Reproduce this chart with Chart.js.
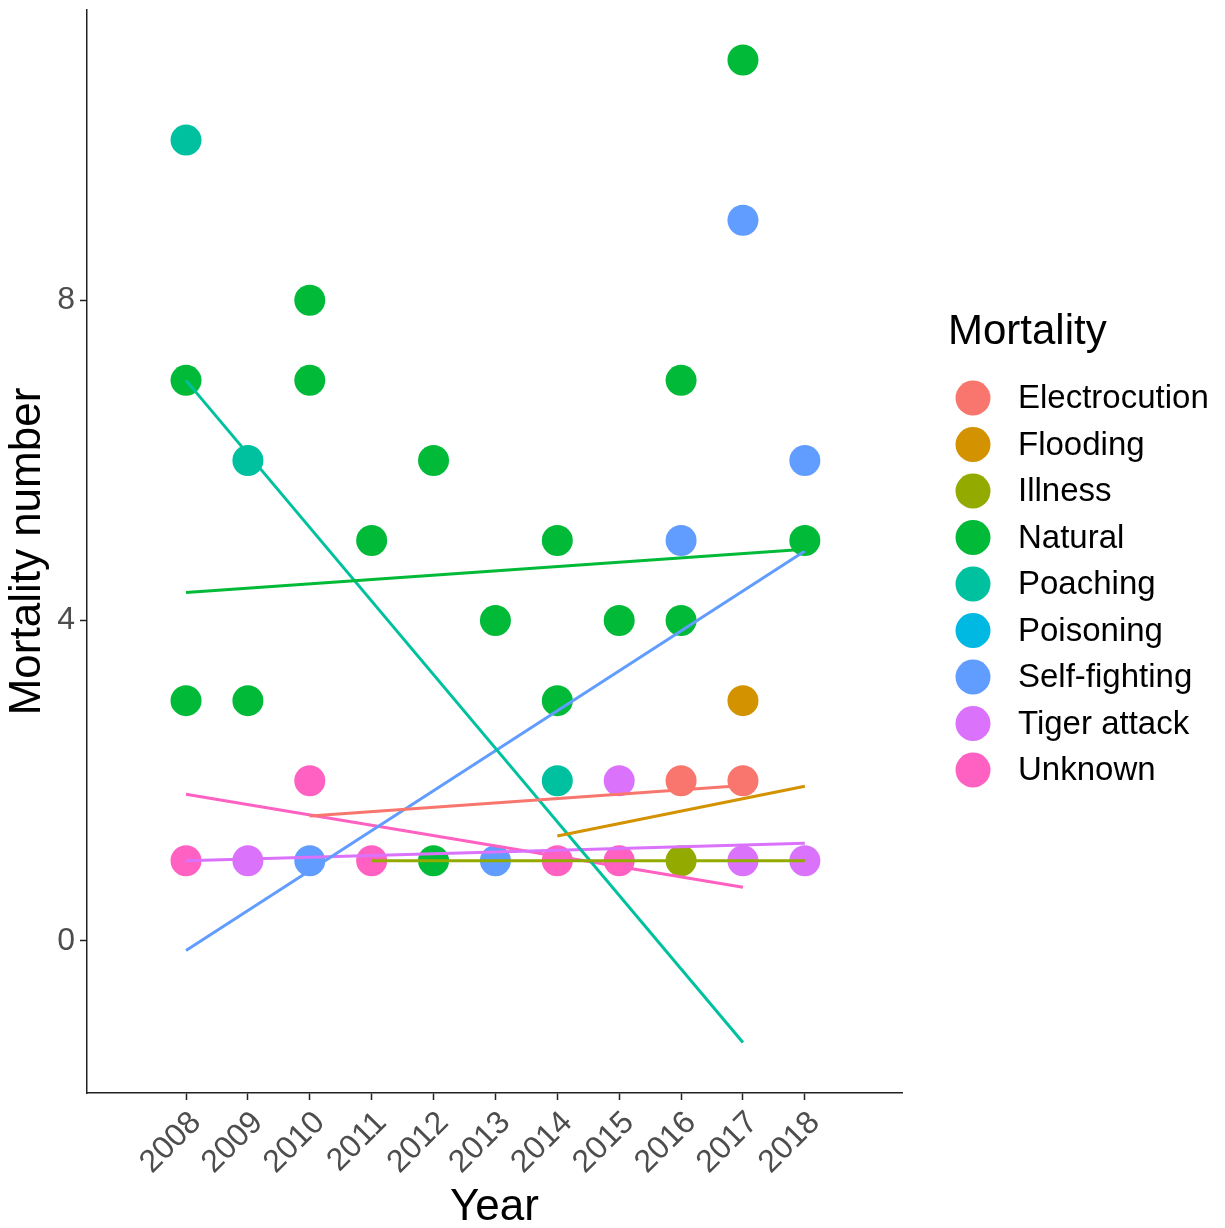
<!DOCTYPE html>
<html>
<head>
<meta charset="utf-8">
<script src="https://cdn.jsdelivr.net/npm/chart.js@4.4.1/dist/chart.umd.min.js"></script>
<style>
  html, body { margin: 0; padding: 0; background: #fff; }
  canvas { display: block; }
</style>
</head>
<body>
<canvas id="chart" width="1225" height="1228"></canvas>
<script>
const years = [2008, 2009, 2010, 2011, 2012, 2013, 2014, 2015, 2016, 2017, 2018];
const yTicks = [0, 4, 8];

const categories = ["Electrocution", "Flooding", "Illness", "Natural", "Poaching",
  "Poisoning", "Self-fighting", "Tiger attack", "Unknown"];
const colors = ["#F8766D", "#D39200", "#93AA00", "#00BA38", "#00C19F",
  "#00B9E3", "#619CFF", "#DB72FB", "#FF61C3"];

// observed counts, [year, number]
const electrocutionPts = [[2016, 2], [2017, 2]];
const floodingPts = [[2017, 3]];
const illnessPts = [[2016, 1]];
const naturalPts = [[2008, 7], [2008, 3], [2009, 3], [2010, 8], [2010, 7], [2011, 5],
  [2012, 6], [2012, 1], [2013, 4], [2014, 5], [2014, 3], [2015, 4], [2016, 7],
  [2016, 4], [2017, 11], [2018, 5]];
const poachingPts = [[2008, 10], [2009, 6], [2014, 2]];
const poisoningPts = [];
const selfFightingPts = [[2010, 1], [2013, 1], [2016, 5], [2017, 9], [2018, 6]];
const tigerPts = [[2009, 1], [2015, 2], [2017, 1], [2018, 1]];
const unknownPts = [[2008, 1], [2010, 2], [2011, 1], [2014, 1], [2015, 1]];

// linear trend ends, [year, fitted]
const electrocutionFit = [[2010, 1.56], [2017, 1.94]];
const floodingFit = [[2014, 1.31], [2018, 1.93]];
const illnessFit = [[2011, 1.0], [2018, 1.0]];
const naturalFit = [[2008, 4.35], [2018, 4.89]];
const poachingFit = [[2008, 7.0], [2017, -1.27]];
const poisoningFit = [];
const selfFightingFit = [[2008, -0.12], [2018, 4.87]];
const tigerFit = [[2008, 1.0], [2018, 1.22]];
const unknownFit = [[2008, 1.83], [2017, 0.67]];

const points = [electrocutionPts, floodingPts, illnessPts, naturalPts, poachingPts,
  poisoningPts, selfFightingPts, tigerPts, unknownPts];
const fits = [electrocutionFit, floodingFit, illnessFit, naturalFit, poachingFit,
  poisoningFit, selfFightingFit, tigerFit, unknownFit];

const FONT = '"Liberation Sans", Arial, sans-serif';
const toXY = arr => arr.map(([x, y]) => ({ x, y }));

// trend lines first so they sit on top of the points
const lineSets = categories.map((name, i) => ({
  label: name + " fit",
  data: toXY(fits[i]),
  showLine: true,
  borderColor: colors[i],
  borderWidth: 3,
  pointRadius: 0,
  fill: false,
}));
const pointSets = categories.map((name, i) => ({
  label: name,
  data: toXY(points[i]),
  backgroundColor: colors[i],
  borderWidth: 0,
  pointRadius: 15.5,
  pointHoverRadius: 15.5,
}));

const sideLegend = {
  id: "sideLegend",
  afterDraw(chart) {
    const ctx = chart.ctx;
    const x0 = chart.chartArea.right + 46;
    ctx.save();
    ctx.textBaseline = "middle";
    ctx.textAlign = "left";
    ctx.fillStyle = "#000";
    ctx.font = "42px " + FONT;
    ctx.fillText("Mortality", x0, 332);
    ctx.font = "33px " + FONT;
    categories.forEach((name, i) => {
      const y = 398 + i * 46.5;
      ctx.fillStyle = colors[i];
      ctx.beginPath();
      ctx.arc(x0 + 25, y, 17.5, 0, Math.PI * 2);
      ctx.fill();
      ctx.fillStyle = "#000";
      ctx.fillText(name, x0 + 70, y + 1);
    });
    ctx.restore();
  }
};

const axisLine = { display: true, color: "#222", width: 1.5 };
const axisGrid = { drawOnChartArea: false, drawTicks: true, tickLength: 7, tickColor: "#222", tickWidth: 1.5 };

new Chart(document.getElementById("chart"), {
  type: "scatter",
  data: { datasets: [...lineSets, ...pointSets] },
  options: {
    responsive: false,
    animation: false,
    devicePixelRatio: 1,
    layout: { autoPadding: false, padding: { top: 10, right: 323, left: 0, bottom: 0 } },
    plugins: {
      legend: { display: false },
      tooltip: { enabled: false },
    },
    scales: {
      x: {
        type: "linear",
        min: 2006.4,
        max: 2019.57,
        afterBuildTicks: s => { s.ticks = years.map(v => ({ value: v })); },
        afterFit: s => { s.height = 135; },
        border: axisLine,
        grid: axisGrid,
        ticks: {
          autoSkip: false,
          minRotation: 45,
          maxRotation: 45,
          padding: 4,
          labelOffset: 10,
          color: "#4D4D4D",
          font: { family: FONT, size: 32 },
          callback: v => String(v),
        },
        title: {
          display: true,
          text: "Year",
          color: "#000",
          font: { family: FONT, size: 44, lineHeight: 0.9 },
          padding: { top: 0, bottom: 0 },
        },
      },
      y: {
        type: "linear",
        min: -1.9,
        max: 11.625,
        afterBuildTicks: s => { s.ticks = yTicks.map(v => ({ value: v })); },
        afterFit: s => {
          s.width = 87;
          s.paddingTop = 0;
          s.paddingBottom = 0;
        },
        border: axisLine,
        grid: axisGrid,
        ticks: {
          padding: 5,
          color: "#4D4D4D",
          font: { family: FONT, size: 32 },
        },
        title: {
          display: true,
          text: "Mortality number",
          color: "#000",
          font: { family: FONT, size: 44, lineHeight: 1 },
          padding: { top: 6, bottom: 0 },
        },
      },
    },
  },
  plugins: [sideLegend],
});
</script>
</body>
</html>
